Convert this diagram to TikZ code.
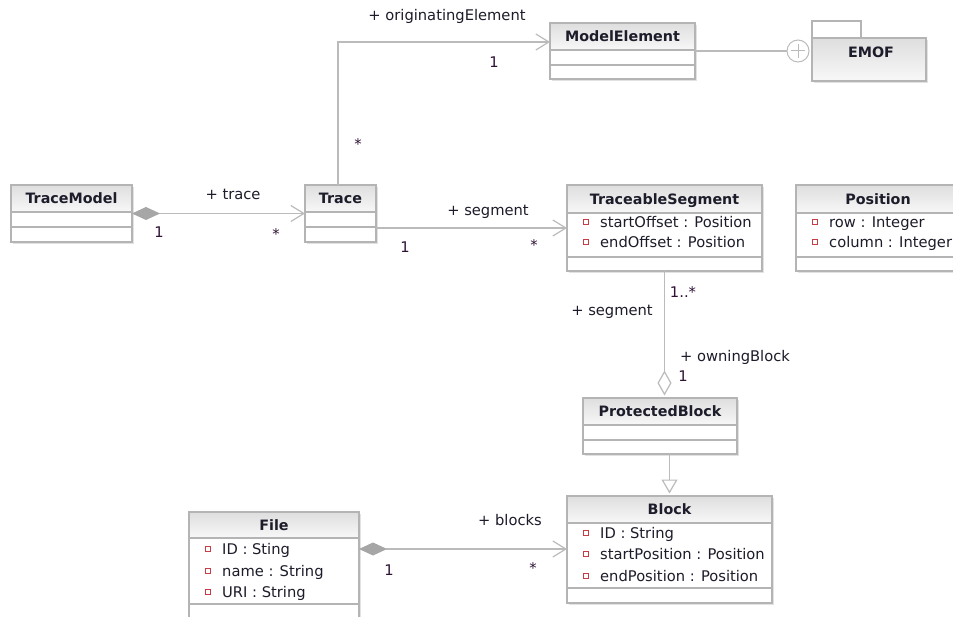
\documentclass[tikz,border=0pt]{standalone}
\usepackage{fontspec}
\setmainfont{DejaVu Sans}
\usetikzlibrary{arrows.meta}

\definecolor{boxc}{HTML}{B4B4B4}
\definecolor{linec}{HTML}{BBBBBB}
\definecolor{diamc}{HTML}{A6A6A6}
\definecolor{shadowc}{HTML}{E2E2E2}
\definecolor{hdtop}{HTML}{DEDEDE}
\definecolor{hdbot}{HTML}{F8F8F8}
\definecolor{txtc}{HTML}{1C1C2A}
\definecolor{multc}{HTML}{2E1234}
\definecolor{iconc}{HTML}{C83C46}

\tikzset{
  boxline/.style={draw=boxc, line width=1.1pt},
  conn/.style={draw=linec, line width=1.2pt},
  txt/.style={font=\fontsize{14.7pt}{17pt}\selectfont, text=txtc, inner sep=0pt},
  hdr/.style={txt, font=\fontsize{14.3pt}{17pt}\selectfont\bfseries, text height=10.4pt, text depth=0pt},
  role/.style={txt, anchor=base},
  mult/.style={txt, text=multc, anchor=base},
  attr/.style={txt, anchor=base west},
  barb/.tip={Straight Barb[length=13pt,width=16pt]},
  compo/.tip={Diamond[length=28pt,width=13pt,color=diamc]},
}

% class box: name, x1, y1, x2, y2, header bottom, separator, title
\newcommand\umlclass[8]{%
  \fill[shadowc] (#2+2,#3+2) rectangle (#4+2,#5+2);
  \fill[white] (#2,#3) rectangle (#4,#5);
  \shade[top color=hdtop,bottom color=hdbot] (#2,#3) rectangle (#4,#6);
  \draw[boxline] (#2,#6) -- (#4,#6) (#2,#7) -- (#4,#7);
  \node[boxline, inner sep=0pt, outer sep=0pt, anchor=north west,
        minimum width={(#4-#2)*1pt}, minimum height={(#5-#3)*1pt}] (#1) at (#2,#3) {};
  \node[hdr] (#1-title) at ({(#2+#4)/2},{(#3+#6)/2}) {#8};
}

% attribute line: name, box left x, baseline y, text
\newcommand\umlattr[4]{%
  \draw[iconc, line width=1pt, fill=white] (#2+16.5,#3-8) rectangle (#2+21.5,#3-3);
  \node[attr] (#1) at (#2+33,#3) {#4};
}

\begin{document}
\begin{tikzpicture}[x=1pt,y=-1pt]
\clip (0,0) rectangle (953,617);
\fill[white] (0,0) rectangle (953,617);

% classes
\umlclass{TraceModel}{11}{185}{132}{242}{212}{227}{TraceModel}
\umlclass{Trace}{305}{185}{376}{242}{212}{227}{Trace}
\umlclass{ModelElement}{550}{23}{695}{79}{50}{65}{ModelElement}
\umlclass{TraceableSegment}{567}{185}{762}{271}{213}{257}{TraceableSegment}
\umlattr{ts-start}{567}{228}{startOffset : Position}
\umlattr{ts-end}{567}{248}{endOffset : Position}
\umlclass{Position}{796}{185}{960}{271}{213}{257}{Position}
\umlattr{pos-row}{796}{228}{row : Integer}
\umlattr{pos-col}{796}{248}{column : Integer}
\umlclass{ProtectedBlock}{583}{398}{737}{454}{425}{440}{ProtectedBlock}
\umlclass{Block}{567}{496}{772}{603}{523}{588}{Block}
\umlattr{blk-id}{567}{538}{ID : String}
\umlattr{blk-start}{567}{559}{startPosition : Position}
\umlattr{blk-end}{567}{581}{endPosition : Position}
\umlclass{File}{189}{512}{359}{640}{538}{604}{File}
\umlattr{file-id}{189}{554}{ID : Sting}
\umlattr{file-name}{189}{576}{name : String}
\umlattr{file-uri}{189}{597}{URI : String}

% package EMOF
\fill[shadowc] (814,40) rectangle (928,83);
\draw[boxline, fill=white] (812,21) rectangle (861,38);
\fill[white] (812,38) rectangle (926,81);
\shade[top color=hdtop,bottom color=hdbot] (812,38) rectangle (926,81);
\node[boxline, inner sep=0pt, outer sep=0pt, anchor=north west,
      minimum width=114pt, minimum height=43pt] (EMOF) at (812,38) {};
\node[hdr] (EMOF-title) at (871,52) {EMOF};

% containment symbol
\node[circle, draw=linec, line width=1pt, minimum size=22pt, inner sep=0pt] (own) at (798,51) {};
\draw[linec, line width=1pt] ([xshift=-7pt]own.center) -- ([xshift=7pt]own.center)
  ([yshift=-7pt]own.center) -- ([yshift=7pt]own.center);
\draw[conn] (ModelElement.east) -- (own.west);

% associations
\draw[conn, compo-barb] (TraceModel.east) -- (Trace.west);
\draw[conn, -barb] ([yshift=-14.5pt]Trace.east) -- ([yshift=-14.5pt]Trace.east -| TraceableSegment.west);
\draw[conn, -barb] ([xshift=-2.5pt]Trace.north) |- ([yshift=9pt]ModelElement.west);
\draw[conn, -{Diamond[open,length=25pt,width=14pt]}, shorten >=2.5pt]
  (TraceableSegment.south) -- (TraceableSegment.south |- ProtectedBlock.north);
\draw[conn, -{Triangle[open,length=14pt,width=16pt]}, shorten >=2.5pt]
  (Block.north |- ProtectedBlock.south) -- (Block.north);
\draw[conn, compo-barb] ([yshift=27pt]File.east) -- ([yshift=27pt]File.east -| Block.west);

% role names and multiplicities
\node[role] (r-trace) at (233,200) {+ trace};
\node[mult] (m-tm1) at (159,238) {1};
\node[mult] (m-tmstar) at (276,240) {*};
\node[role] (r-seg1) at (488,216) {+ segment};
\node[mult] (m-tr1) at (405,253) {1};
\node[mult] (m-trstar) at (534,251) {*};
\node[role] (r-orig) at (447,21) {+ originatingElement};
\node[mult] (m-me1) at (494,68) {1};
\node[mult] (m-mestar) at (358,150) {*};
\node[mult] (m-seg) at (683,298) {1..*};
\node[role] (r-seg2) at (612,316) {+ segment};
\node[role] (r-own) at (735,362) {+ owningBlock};
\node[mult] (m-own1) at (683,382) {1};
\node[role] (r-blocks) at (510,525) {+ blocks};
\node[mult] (m-file1) at (389,575) {1};
\node[mult] (m-filestar) at (533,573) {*};
\end{tikzpicture}
\end{document}
